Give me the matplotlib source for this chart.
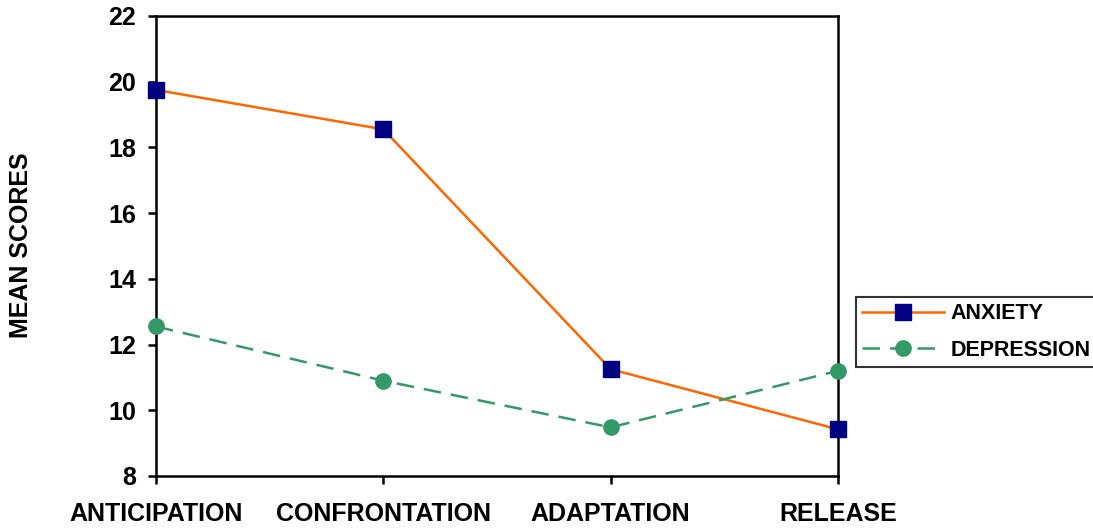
import matplotlib
matplotlib.use("Agg")
import matplotlib.pyplot as plt

categories = ["ANTICIPATION", "CONFRONTATION", "ADAPTATION", "RELEASE"]
anxiety = [19.75, 18.55, 11.25, 9.42]
depression = [12.55, 10.90, 9.48, 11.20]
yticks = [8, 10, 12, 14, 16, 18, 20, 22]

plt.rcParams['font.family'] = ['Liberation Sans', 'DejaVu Sans']
plt.rcParams['font.weight'] = 'bold'

fig = plt.figure(figsize=(10.93, 5.29), dpi=100)
ax = fig.add_axes([0.1427, 0.1002, 0.7667 - 0.1427, 0.9698 - 0.1002])

x = list(range(len(categories)))
ax.plot(x, anxiety, color='#FF6600', lw=1.8, marker='s', markersize=11,
        markerfacecolor='#000080', markeredgecolor='#000080', label='ANXIETY', clip_on=False, zorder=3)
ax.plot(x, depression, color='#339966', lw=1.8, ls=(0, (7, 4)), marker='o', markersize=11,
        markerfacecolor='#339966', markeredgecolor='#339966', label='DEPRESSION', clip_on=False, zorder=3)

ax.set_xlim(0, 3)
ax.set_ylim(8, 22)
ax.set_xticks(x)
ax.set_xticklabels(categories, fontsize=18, fontweight='bold')
ax.set_yticks(yticks)
ax.set_yticklabels([str(t) for t in yticks], fontsize=18, fontweight='bold')
ax.tick_params(axis='x', direction='out', length=6, width=1.8, pad=13)
ax.tick_params(axis='y', direction='out', length=6, width=1.8, pad=8.5)
for s in ax.spines.values():
    s.set_linewidth(1.8)
    s.set_color('black')

fig.text(0.019, 0.537, 'MEAN SCORES', rotation=90, fontsize=18, fontweight='bold',
         ha='center', va='center')

leg = ax.legend(loc='upper left', bbox_to_anchor=(856/1093, 1 - 297/529),
                bbox_transform=fig.transFigure, frameon=True, fancybox=False,
                edgecolor='black', fontsize=15.5, handlelength=3.8, borderpad=0.3,
                labelspacing=0.7, handletextpad=0.3, borderaxespad=0)
leg.get_frame().set_linewidth(1.5)
for t in leg.get_texts():
    t.set_fontweight('bold')

fig.savefig('out.png', dpi=100)
